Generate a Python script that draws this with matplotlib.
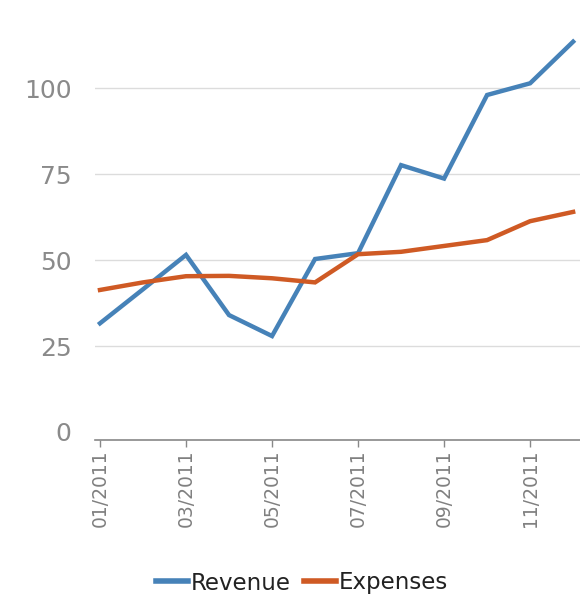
import matplotlib
matplotlib.use("Agg")
import matplotlib.pyplot as plt
import numpy as np

plt.rcParams["font.family"] = ["DejaVu Sans"]

months = ["01/2011", "02/2011", "03/2011", "04/2011", "05/2011", "06/2011",
          "07/2011", "08/2011", "09/2011", "10/2011", "11/2011", "12/2011"]
revenue = [31.6, 41.5, 51.5, 34.0, 27.9, 50.3, 52.0, 77.6, 73.7, 98.0, 101.4, 113.5]
expenses = [41.3, 43.5, 45.3, 45.4, 44.7, 43.5, 51.7, 52.4, 54.1, 55.8, 61.3, 64.0]
yticks = [0, 25, 50, 75, 100]

fig = plt.figure(figsize=(5.8, 5.99), dpi=100)
ax = fig.add_axes([95/580, (599-440)/599, 1 - 95/580, (440-30)/599])

x = np.arange(len(months))
ax.plot(x, revenue, color="#4682b8", lw=3.2, label="Revenue", solid_joinstyle="miter")
ax.plot(x, expenses, color="#cf5a24", lw=3.2, label="Expenses", solid_joinstyle="miter")

ax.set_xlim(-0.116, 11.16)
ax.set_ylim(-2.33, 116.9)
ax.set_yticks(yticks)
ax.set_yticklabels([str(v) for v in yticks])
for v in yticks[1:]:
    ax.axhline(v, color="#dcdcdc", lw=1.0, zorder=0)

ax.set_xticks(x[::2])
ax.set_xticklabels(months[::2], rotation=90)

for s in ["top", "right", "left"]:
    ax.spines[s].set_visible(False)
ax.spines["bottom"].set_color("#888888")
ax.spines["bottom"].set_linewidth(1.2)

ax.tick_params(axis="y", length=0, pad=17, labelsize=18, labelcolor="#8a8a8a")
ax.tick_params(axis="x", length=5, width=1, color="#888888", pad=2,
               labelsize=13.5, labelcolor="#808080")

leg = fig.legend(loc="center", bbox_to_anchor=(302/580, 1 - 583/599), ncol=2,
                 frameon=False, fontsize=16.5, handlelength=1.4,
                 handletextpad=0.1, columnspacing=0.6)
for t in leg.get_texts():
    t.set_color("#222222")
for h in leg.get_lines():
    h.set_linewidth(4)

fig.savefig("out.png", dpi=100)
